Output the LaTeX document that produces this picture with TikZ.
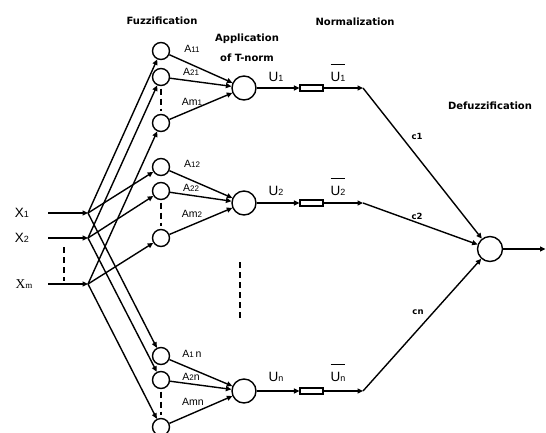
\documentclass[tikz,border=0pt]{standalone}
\usepackage{fontspec}
\setmainfont{Liberation Sans}
\newfontfamily\headfont{DejaVu Sans}
\newfontfamily\serfont{Liberation Serif}
\usetikzlibrary{arrows.meta}

\newcommand{\subix}[1]{{\fontsize{9}{9}\selectfont #1}}
\newcommand{\subsm}[1]{{\fontsize{8}{8}\selectfont #1}}
\newcommand{\normed}[1]{$\overline{\rule{0pt}{15pt}\mbox{U\subix{#1}}}$}

\tikzset{
    neuron/.style = {shape = circle, draw, line width = 1.4pt, inner sep = 0pt, minimum size = 17pt},
    tnorm/.style = {neuron, minimum size = 24pt},
    normbox/.style = {shape = rectangle, draw, line width = 1.1pt, inner sep = 0pt, minimum width = 23pt, minimum height = 6pt},
    link/.style = {line width = 1.4pt, -{Triangle[length = 5.5pt, width = 5pt]}},
    dots/.style = {line width = 2pt, dash pattern = on 6pt off 4pt},
    head/.style = {font = \headfont\bfseries\fontsize{10}{20}\selectfont, align = center, inner sep = 0pt},
    varlbl/.style = {font = \fontsize{13.5}{13.5}\selectfont, inner sep = 0pt},
    mflbl/.style = {font = \fontsize{10.5}{10.5}\selectfont, inner sep = 0pt},
    wlbl/.style = {font = \headfont\bfseries\fontsize{8.5}{8.5}\selectfont, inner sep = 0pt}
}

\begin{document}
\begin{tikzpicture}[x = 1pt, y = -1pt]
    \clip (0,0) rectangle (546,432);
    % layer titles
    \node[head] (HF) at (162,21) {Fuzzification};
    \node[head] (HT) at (247,48) {Application\\of T-norm};
    \node[head] (HN) at (355,22) {Normalization};
    \node[head] (HD) at (490,106) {Defuzzification};

    % inputs
    \node[varlbl] (X1) at (22,213) {X\subix{1}};
    \node[varlbl] (X2) at (22,238) {X\subix{2}};
    \node[varlbl] (Xm) at (24,284) {\serfont X\subix{m}};
    \coordinate (S1) at (48,213);
    \coordinate (S2) at (48,238);
    \coordinate (Sm) at (48,284);
    \coordinate (J1) at (88,213);
    \coordinate (J2) at (88,238);
    \coordinate (Jm) at (88,284);
    \draw[dots] (64,247) -- (64,281);

    % membership neurons
    \node[neuron] (F11) at (161,51) {};
    \node[neuron] (F21) at (161,77) {};
    \node[neuron] (Fm1) at (161,123) {};
    \node[neuron] (F12) at (161,167) {};
    \node[neuron] (F22) at (161,191) {};
    \node[neuron] (Fm2) at (161,238) {};
    \node[neuron] (F1n) at (161,356) {};
    \node[neuron] (F2n) at (161,380) {};
    \node[neuron] (Fmn) at (161,427) {};
    \draw[dots, shorten <= 2.5pt, shorten >= 3pt] (F21.south) -- (Fm1.north);
    \draw[dots, shorten <= 2.5pt, shorten >= 3pt] (F22.south) -- (Fm2.north);
    \draw[dots, shorten <= 2.5pt, shorten >= 3pt] (F2n.south) -- (Fmn.north);

    % rule neurons
    \node[tnorm] (T1) at (244,88) {};
    \node[tnorm] (T2) at (244,203) {};
    \node[tnorm] (Tn) at (244,391) {};
    \draw[dots] (240,262) -- (240,318);

    % normalization
    \node[normbox] (N1) at (311.5,88) {};
    \node[normbox] (N2) at (311.5,203) {};
    \node[normbox] (Nn) at (311.5,391) {};
    \coordinate (P1) at (363,88);
    \coordinate (P2) at (363,203);
    \coordinate (Pn) at (363,391);

    % output
    \node[tnorm, minimum size = 25pt] (D) at (490,249) {};
    \coordinate (O) at (545.5,249);

    % connectors
    \draw[link] (S1) -- (J1);
    \draw[link] (S2) -- (J2);
    \draw[link] (Sm) -- (Jm);
    \draw[link] (J1) -- (F11);
    \draw[link] (J1) -- (F12);
    \draw[link] (J1) -- (F1n);
    \draw[link] (J2) -- (F21);
    \draw[link] (J2) -- (F22);
    \draw[link] (J2) -- (F2n);
    \draw[link] (Jm) -- (Fm1);
    \draw[link] (Jm) -- (Fm2);
    \draw[link] (Jm) -- (Fmn);
    \draw[link] (F11) -- (T1);
    \draw[link] (F21) -- (T1);
    \draw[link] (Fm1) -- (T1);
    \draw[link] (F12) -- (T2);
    \draw[link] (F22) -- (T2);
    \draw[link] (Fm2) -- (T2);
    \draw[link] (F1n) -- (Tn);
    \draw[link] (F2n) -- (Tn);
    \draw[link] (Fmn) -- (Tn);
    \draw[link] (T1) -- (N1);
    \draw[link] (T2) -- (N2);
    \draw[link] (Tn) -- (Nn);
    \draw[link] (N1) -- (P1);
    \draw[link] (N2) -- (P2);
    \draw[link] (Nn) -- (Pn);
    \draw[link] (P1) -- (D);
    \draw[link] (P2) -- (D);
    \draw[link] (Pn) -- (D);
    \draw[link] (D) -- (O);

    % labels
    \node[mflbl] (A11) at (192,49) {A\subsm{11}};
    \node[mflbl] (A21) at (191,72) {A\subsm{21}};
    \node[mflbl] (Am1) at (192,102) {Am\subsm{1}};
    \node[mflbl] (A12) at (192,164) {A\subsm{12}};
    \node[mflbl] (A22) at (191,188) {A\subsm{22}};
    \node[mflbl] (Am2) at (192,214) {Am\subsm{2}};
    \node[mflbl] (A1n) at (192,354) {A\subsm{1}\,n};
    \node[mflbl] (A2n) at (191,377) {A\subsm{2}n};
    \node[mflbl] (Amn) at (193,402) {Amn};
    \node[varlbl] (U1) at (276,77) {U\subix{1}};
    \node[varlbl] (U2) at (276,191) {U\subix{2}};
    \node[varlbl] (Un) at (276,377) {U\subix{n}};
    \node[varlbl, anchor = base] (V1) at (338,81) {\normed{1}};
    \node[varlbl, anchor = base] (V2) at (338,195) {\normed{2}};
    \node[varlbl, anchor = base] (Vn) at (338,381) {\normed{n}};
    \node[wlbl] (C1) at (417,136) {c1};
    \node[wlbl] (C2) at (417,216) {c2};
    \node[wlbl] (Cn) at (418,312) {cn};
\end{tikzpicture}
\end{document}
